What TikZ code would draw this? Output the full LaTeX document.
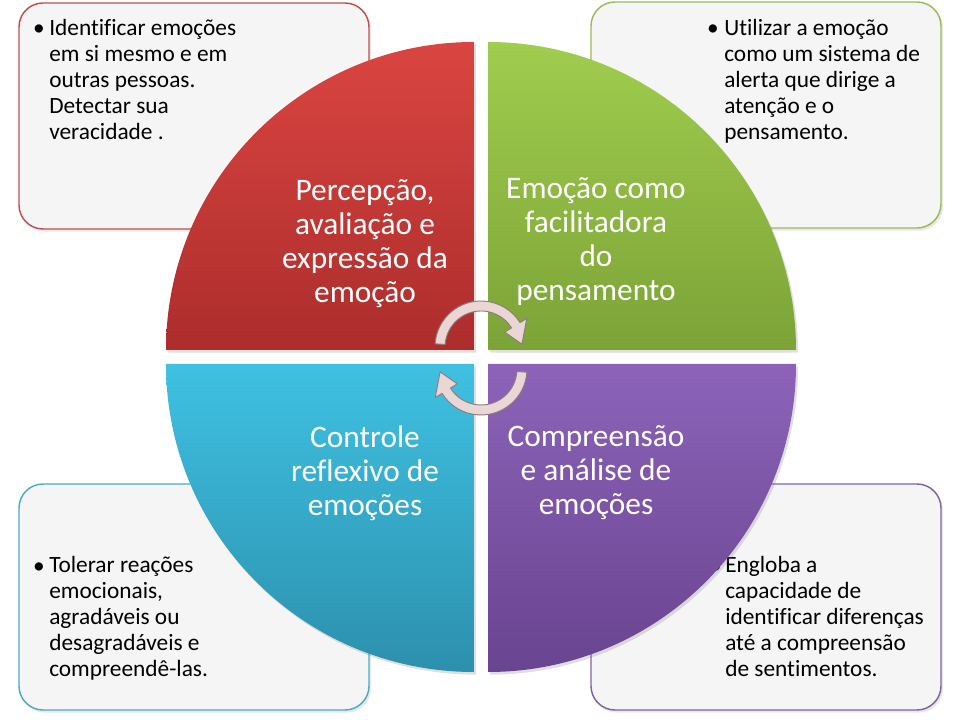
\documentclass[tikz,border=0pt]{standalone}
\usepackage{fontspec}
\setmainfont{Carlito}[Ligatures=NoCommon]
\usetikzlibrary{shadows}
\definecolor{quadredtop}{HTML}{DA4541}
\definecolor{quadredbot}{HTML}{AC2D2C}
\definecolor{quadgreentop}{HTML}{A0CD4E}
\definecolor{quadgreenbot}{HTML}{7CA337}
\definecolor{quadbluetop}{HTML}{3FC1E2}
\definecolor{quadbluebot}{HTML}{2C90AE}
\definecolor{quadpurpletop}{HTML}{8C63B9}
\definecolor{quadpurplebot}{HTML}{694490}
\definecolor{cardred}{HTML}{C0504D}
\definecolor{cardgreen}{HTML}{9BBB59}
\definecolor{cardblue}{HTML}{4BACC6}
\definecolor{cardpurple}{HTML}{8064A2}
\definecolor{cardfill}{HTML}{F5F5F5}
\definecolor{swirlfill}{HTML}{EBD6D6}
\definecolor{swirledge}{HTML}{8E7B7B}

\begin{document}
\begin{tikzpicture}[x=0.75pt,y=0.75pt]
  \tikzstyle{card}=[fill=cardfill, line width=1.1pt, rounded corners=18pt,
    drop shadow={opacity=0.18, shadow xshift=1.5pt, shadow yshift=-2pt}]
  \tikzstyle{quad}=[drop shadow={opacity=0.25, shadow xshift=1.5pt, shadow yshift=-2pt}]
  \tikzstyle{cardtext}=[font=\fontsize{17.5}{19.5}\selectfont, align=left, anchor=base west, inner sep=0pt]
  \tikzstyle{dotmark}=[font=\fontsize{17.5}{19.5}\selectfont, anchor=base, inner sep=0pt]
  \tikzstyle{quadtext}=[font=\fontsize{23.5}{25.5}\selectfont, align=center, text=white]
  \tikzstyle{swirl}=[fill=swirlfill, draw=swirledge, line width=0.7pt, line join=round]

  \path[use as bounding box] (0,0) rectangle (960,720);

  % Corner cards, drawn first so the quarters sit on top of them.
  \foreach \x/\y/\edge in {19/491/cardred, 591/492/cardgreen, 19/10/cardblue, 591/10/cardpurple} {
    \draw[card, draw=\edge] (\x,\y) rectangle ++(350,226);
  }

  % Card texts (the base anchor sits on the last line).
  \node[dotmark] (tldot) at (39,684) {•};
  \node[cardtext] (tltext) at (49,580) {Identificar emoções\\em si mesmo e em\\outras pessoas.\\Detectar sua\\veracidade .};
  \node[dotmark] (trdot) at (713,684) {•};
  \node[cardtext] (trtext) at (724,580) {Utilizar a emoção\\como um sistema de\\alerta que dirige a\\atenção e o\\pensamento.};
  \node[dotmark] (bldot) at (39,146) {•};
  \node[cardtext] (bltext) at (49,43) {Tolerar reações\\emocionais,\\agradáveis ou\\desagradáveis e\\compreendê-las.};
  \node[dotmark] (brdot) at (716,146) {•};
  \node[cardtext] (brtext) at (725,43) {Engloba a\\capacidade de\\identificar diferenças\\até a compreensão\\de sentimentos.};

  % The four quarters of the circle.
  \foreach \cx/\cy/\from/\to/\lite/\dark in {
    474/370/180/90/quadredtop/quadredbot,
    488/370/90/0/quadgreentop/quadgreenbot,
    474/356/180/270/quadbluetop/quadbluebot,
    488/356/0/-90/quadpurpletop/quadpurplebot} {
    \path[quad, top color=\lite, bottom color=\dark]
      (\cx,\cy) -- ++(\from:308) arc[start angle=\from, end angle=\to, radius=308] -- cycle;
  }

  \node[quadtext] (perc) at (365,476) {Percepção,\\avaliação e\\expressão da\\emoção};
  \node[quadtext] (faci) at (596,478) {Emoção como\\facilitadora\\do\\pensamento};
  \node[quadtext] (ctrl) at (365,247) {Controle\\reflexivo de\\emoções};
  \node[quadtext] (comp) at (596,247) {Compreensão\\e análise de\\emoções};

  % Curved arrows in the middle.
  \foreach \turn in {0,180} {
    \begin{scope}[shift={(481,362)}, rotate=\turn, shift={(0,11)}]
      \path[swirl] (176:46) arc[start angle=176, end angle=32, radius=46]
        -- (32:54) -- (4:41) -- (32:28) -- (32:36)
        arc[start angle=32, end angle=176, radius=36] -- cycle;
    \end{scope}
  }
\end{tikzpicture}
\end{document}
